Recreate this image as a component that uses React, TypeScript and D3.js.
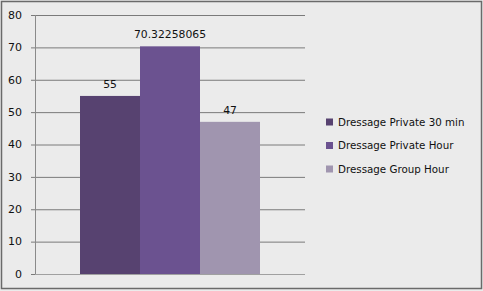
import React from "react";
import * as d3 from "d3";

const seriesNames = ["Dressage Private 30 min", "Dressage Private Hour", "Dressage Group Hour"];
const seriesValues = [55, 70.32258065, 47];
const valueLabels = ["55", "70.32258065", "47"];
const seriesColors = ["#574270", "#6b5290", "#a095af"];
const yTicks = [0, 10, 20, 30, 40, 50, 60, 70, 80];

const W = 483;
const H = 291;
const plot = { left: 35, right: 305, top: 15, bottom: 274 };

export default function App() {
  const y = d3.scaleLinear().domain([0, 80]).range([plot.bottom, plot.top]);
  const x = d3.scaleBand<string>().domain(seriesNames).range([80, 260]).paddingInner(0).paddingOuter(0);
  const font = "'DejaVu Sans', Verdana, sans-serif";

  return (
    <svg width={W} height={H} style={{ position: "absolute", left: 0, top: 0 }}>
      <rect x={0} y={0} width={W} height={H} fill="#ebebeb" />
      <rect x={1.5} y={1.5} width={W - 3} height={H - 4} fill="none" stroke="#6a6a6a" strokeWidth={1.5} />
      {yTicks.map((t) => (
        <g key={t}>
          {t > 0 && (
            <line x1={plot.left} x2={plot.right} y1={y(t) + 0.5} y2={y(t) + 0.5} stroke="#7a7a7a" strokeWidth={1} />
          )}
          <line x1={plot.left - 4} x2={plot.left} y1={y(t) + 0.5} y2={y(t) + 0.5} stroke="#7a7a7a" />
          <text x={22} y={y(t)} dy="0.35em" textAnchor="end" fontFamily={font} fontSize={11} fill="#111">
            {t}
          </text>
        </g>
      ))}
      <line x1={plot.left + 0.5} x2={plot.left + 0.5} y1={plot.top} y2={plot.bottom} stroke="#8a8a8a" />
      <line x1={plot.left} x2={plot.right} y1={plot.bottom + 0.5} y2={plot.bottom + 0.5} stroke="#a0a0a0" />
      {seriesNames.map((name, i) => (
        <g key={name}>
          <rect
            x={x(name)!}
            y={y(seriesValues[i])}
            width={x.bandwidth()}
            height={plot.bottom - y(seriesValues[i])}
            fill={seriesColors[i]}
          />
          <text
            x={x(name)! + x.bandwidth() / 2}
            y={y(seriesValues[i]) - 8}
            textAnchor="middle"
            fontFamily={font}
            fontSize={10.8}
            fill="#111"
          >
            {valueLabels[i]}
          </text>
        </g>
      ))}
      {seriesNames.map((name, i) => {
        const cy = 122 + i * 23.5;
        return (
          <g key={"lg" + name}>
            <rect x={326} y={cy - 3.5} width={7} height={7} fill={seriesColors[i]} />
            <text x={338} y={cy} dy="0.35em" fontFamily={font} fontSize={10.3} fill="#111">
              {name}
            </text>
          </g>
        );
      })}
    </svg>
  );
}
